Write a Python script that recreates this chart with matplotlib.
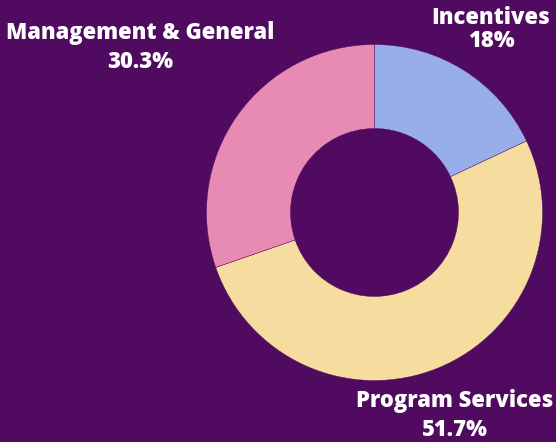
import matplotlib.pyplot as plt

categories = ['Incentives', 'Program Services', 'Management & General']
shares = [18.0, 51.7, 30.3]
share_labels = ['18%', '51.7%', '30.3%']
colors = ['#97aeea', '#f6dc9e', '#e78ab4']
bg = '#500a5f'

plt.rcParams['font.family'] = ['Open Sans', 'DejaVu Sans']

fig = plt.figure(figsize=(5.56, 4.42), dpi=100, facecolor=bg)
ax = fig.add_axes([0, 0, 1, 1])
ax.set_facecolor(bg)

ax.pie(shares, colors=colors, startangle=90, counterclock=False,
       center=(374.5, 229.5), radius=168, frame=True,
       wedgeprops=dict(width=84, edgecolor=bg, linewidth=0.3))
ax.set_xlim(0, 556)
ax.set_ylim(0, 442)
ax.set_aspect('equal')
ax.axis('off')

# label positions (pixels, y from bottom)
label_pos = [(491, 424, 401), (455, 41, 12), (140, 409, 380)]
for name, lab, (x, y1, y2) in zip(categories, share_labels, label_pos):
    ax.text(x, y1, name, color='white', fontsize=15.8, fontweight='heavy',
            ha='center', va='center')
    ax.text(x, y2, lab, color='white', fontsize=15.8, fontweight='heavy',
            ha='center', va='center')

fig.savefig('out.png', dpi=100, facecolor=bg)
